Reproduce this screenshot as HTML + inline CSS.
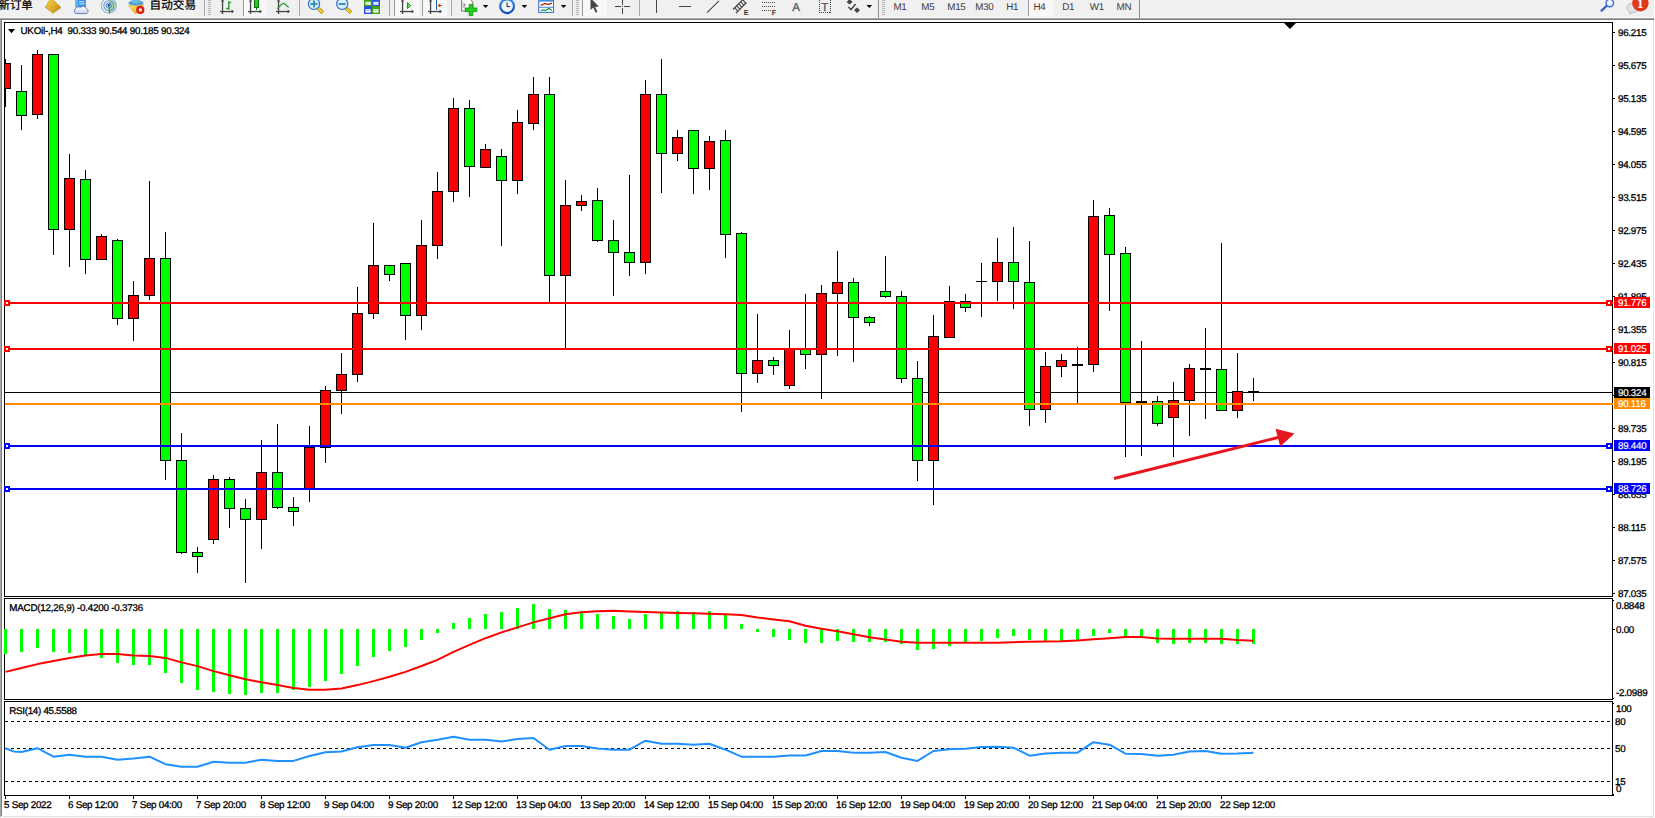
<!DOCTYPE html>
<html lang="zh"><head><meta charset="utf-8"><title>UKOil-,H4</title>
<style>html,body{margin:0;padding:0;background:#fff;overflow:hidden}body{width:1655px;height:818px;position:relative}svg{position:absolute;left:0;top:0;display:block}svg text{font-family:"Liberation Sans", "Noto Sans CJK SC", sans-serif;white-space:pre;text-rendering:geometricPrecision}.c{shape-rendering:crispEdges}</style></head><body>
<svg width="1655" height="818" viewBox="0 0 1655 818">
<g class="c">
<rect x="0" y="0" width="1655" height="818" fill="#ffffff"/>
<rect x="0" y="0" width="1655" height="17" fill="#f0f0f0"/>
<rect x="0" y="17" width="1655" height="1" fill="#f6f6f6"/>
<rect x="0" y="18" width="1654" height="1" fill="#a6a6a6"/>
<rect x="0" y="19" width="1654" height="1" fill="#7e7e7e"/>
<rect x="0" y="20" width="1" height="797" fill="#a8a8a8"/>
<rect x="1" y="20" width="1" height="796" fill="#808080"/>
<rect x="1653" y="20" width="1" height="797" fill="#e3e3e3"/>
<rect x="1654" y="0" width="1" height="818" fill="#ffffff"/>
<rect x="2" y="816" width="1652" height="1" fill="#e3e3e3"/>
<rect x="2" y="817" width="1653" height="1" fill="#f4f4f4"/>
</g>
<g class="c" fill="#000">
<rect x="4" y="22" width="1609" height="1" fill="#000"/>
<rect x="4" y="596" width="1609" height="1" fill="#000"/>
<rect x="4" y="22" width="1" height="575" fill="#000"/>
<rect x="4" y="598" width="1609" height="1" fill="#000"/>
<rect x="4" y="699" width="1609" height="1" fill="#000"/>
<rect x="4" y="598" width="1" height="102" fill="#000"/>
<rect x="4" y="701" width="1609" height="1" fill="#000"/>
<rect x="4" y="795" width="1610" height="1" fill="#000"/>
<rect x="4" y="701" width="1" height="95" fill="#000"/>
<rect x="1612" y="22" width="1" height="575" fill="#000"/>
<rect x="1612" y="598" width="1" height="102" fill="#000"/>
<rect x="1612" y="701" width="1" height="95" fill="#000"/>
<rect x="1613" y="600" width="1" height="1" fill="#000"/>
<rect x="1613" y="698" width="1" height="1" fill="#000"/>
<rect x="1613" y="703" width="1" height="1" fill="#000"/>
<rect x="1613" y="794" width="1" height="1" fill="#000"/>
</g>
<path d="M1284 23 L1296 23 L1290 29 Z" fill="#000"/>
<g class="c">
<rect x="5" y="392" width="1607" height="1" fill="#000"/>
</g>
<g class="c">
<rect x="5" y="59" width="1" height="48" fill="#000"/>
<rect x="5" y="63" width="6" height="26" fill="#000"/>
<rect x="5" y="64" width="5" height="24" fill="#ff0000"/>
<rect x="21" y="65" width="1" height="65" fill="#000"/>
<rect x="16" y="91" width="11" height="25" fill="#000"/>
<rect x="17" y="92" width="9" height="23" fill="#00ff00"/>
<rect x="37" y="50" width="1" height="69" fill="#000"/>
<rect x="32" y="54" width="11" height="61" fill="#000"/>
<rect x="33" y="55" width="9" height="59" fill="#ff0000"/>
<rect x="53" y="54" width="1" height="201" fill="#000"/>
<rect x="48" y="54" width="11" height="176" fill="#000"/>
<rect x="49" y="55" width="9" height="174" fill="#00ff00"/>
<rect x="69" y="154" width="1" height="113" fill="#000"/>
<rect x="64" y="178" width="11" height="52" fill="#000"/>
<rect x="65" y="179" width="9" height="50" fill="#ff0000"/>
<rect x="85" y="170" width="1" height="104" fill="#000"/>
<rect x="80" y="179" width="11" height="81" fill="#000"/>
<rect x="81" y="180" width="9" height="79" fill="#00ff00"/>
<rect x="101" y="234" width="1" height="26" fill="#000"/>
<rect x="96" y="236" width="11" height="24" fill="#000"/>
<rect x="97" y="237" width="9" height="22" fill="#ff0000"/>
<rect x="117" y="239" width="1" height="86" fill="#000"/>
<rect x="112" y="240" width="11" height="79" fill="#000"/>
<rect x="113" y="241" width="9" height="77" fill="#00ff00"/>
<rect x="133" y="281" width="1" height="60" fill="#000"/>
<rect x="128" y="295" width="11" height="24" fill="#000"/>
<rect x="129" y="296" width="9" height="22" fill="#ff0000"/>
<rect x="149" y="181" width="1" height="119" fill="#000"/>
<rect x="144" y="258" width="11" height="38" fill="#000"/>
<rect x="145" y="259" width="9" height="36" fill="#ff0000"/>
<rect x="165" y="232" width="1" height="248" fill="#000"/>
<rect x="160" y="258" width="11" height="203" fill="#000"/>
<rect x="161" y="259" width="9" height="201" fill="#00ff00"/>
<rect x="181" y="433" width="1" height="121" fill="#000"/>
<rect x="176" y="460" width="11" height="93" fill="#000"/>
<rect x="177" y="461" width="9" height="91" fill="#00ff00"/>
<rect x="197" y="547" width="1" height="26" fill="#000"/>
<rect x="192" y="552" width="11" height="5" fill="#000"/>
<rect x="193" y="553" width="9" height="3" fill="#00ff00"/>
<rect x="213" y="475" width="1" height="69" fill="#000"/>
<rect x="208" y="479" width="11" height="61" fill="#000"/>
<rect x="209" y="480" width="9" height="59" fill="#ff0000"/>
<rect x="229" y="477" width="1" height="51" fill="#000"/>
<rect x="224" y="479" width="11" height="30" fill="#000"/>
<rect x="225" y="480" width="9" height="28" fill="#00ff00"/>
<rect x="245" y="499" width="1" height="84" fill="#000"/>
<rect x="240" y="508" width="11" height="12" fill="#000"/>
<rect x="241" y="509" width="9" height="10" fill="#00ff00"/>
<rect x="261" y="440" width="1" height="109" fill="#000"/>
<rect x="256" y="472" width="11" height="48" fill="#000"/>
<rect x="257" y="473" width="9" height="46" fill="#ff0000"/>
<rect x="277" y="424" width="1" height="85" fill="#000"/>
<rect x="272" y="472" width="11" height="36" fill="#000"/>
<rect x="273" y="473" width="9" height="34" fill="#00ff00"/>
<rect x="293" y="497" width="1" height="29" fill="#000"/>
<rect x="288" y="507" width="11" height="5" fill="#000"/>
<rect x="289" y="508" width="9" height="3" fill="#00ff00"/>
<rect x="309" y="426" width="1" height="76" fill="#000"/>
<rect x="304" y="447" width="11" height="42" fill="#000"/>
<rect x="305" y="448" width="9" height="40" fill="#ff0000"/>
<rect x="325" y="386" width="1" height="77" fill="#000"/>
<rect x="320" y="390" width="11" height="58" fill="#000"/>
<rect x="321" y="391" width="9" height="56" fill="#ff0000"/>
<rect x="341" y="353" width="1" height="61" fill="#000"/>
<rect x="336" y="374" width="11" height="17" fill="#000"/>
<rect x="337" y="375" width="9" height="15" fill="#ff0000"/>
<rect x="357" y="287" width="1" height="95" fill="#000"/>
<rect x="352" y="313" width="11" height="62" fill="#000"/>
<rect x="353" y="314" width="9" height="60" fill="#ff0000"/>
<rect x="373" y="223" width="1" height="96" fill="#000"/>
<rect x="368" y="265" width="11" height="49" fill="#000"/>
<rect x="369" y="266" width="9" height="47" fill="#ff0000"/>
<rect x="389" y="265" width="1" height="16" fill="#000"/>
<rect x="384" y="265" width="11" height="10" fill="#000"/>
<rect x="385" y="266" width="9" height="8" fill="#00ff00"/>
<rect x="405" y="263" width="1" height="77" fill="#000"/>
<rect x="400" y="263" width="11" height="53" fill="#000"/>
<rect x="401" y="264" width="9" height="51" fill="#00ff00"/>
<rect x="421" y="220" width="1" height="110" fill="#000"/>
<rect x="416" y="245" width="11" height="71" fill="#000"/>
<rect x="417" y="246" width="9" height="69" fill="#ff0000"/>
<rect x="437" y="172" width="1" height="87" fill="#000"/>
<rect x="432" y="191" width="11" height="55" fill="#000"/>
<rect x="433" y="192" width="9" height="53" fill="#ff0000"/>
<rect x="453" y="98" width="1" height="104" fill="#000"/>
<rect x="448" y="108" width="11" height="84" fill="#000"/>
<rect x="449" y="109" width="9" height="82" fill="#ff0000"/>
<rect x="469" y="100" width="1" height="97" fill="#000"/>
<rect x="464" y="108" width="11" height="59" fill="#000"/>
<rect x="465" y="109" width="9" height="57" fill="#00ff00"/>
<rect x="485" y="144" width="1" height="24" fill="#000"/>
<rect x="480" y="149" width="11" height="19" fill="#000"/>
<rect x="481" y="150" width="9" height="17" fill="#ff0000"/>
<rect x="501" y="149" width="1" height="97" fill="#000"/>
<rect x="496" y="156" width="11" height="25" fill="#000"/>
<rect x="497" y="157" width="9" height="23" fill="#00ff00"/>
<rect x="517" y="110" width="1" height="84" fill="#000"/>
<rect x="512" y="122" width="11" height="59" fill="#000"/>
<rect x="513" y="123" width="9" height="57" fill="#ff0000"/>
<rect x="533" y="77" width="1" height="53" fill="#000"/>
<rect x="528" y="94" width="11" height="30" fill="#000"/>
<rect x="529" y="95" width="9" height="28" fill="#ff0000"/>
<rect x="549" y="77" width="1" height="225" fill="#000"/>
<rect x="544" y="94" width="11" height="182" fill="#000"/>
<rect x="545" y="95" width="9" height="180" fill="#00ff00"/>
<rect x="565" y="180" width="1" height="168" fill="#000"/>
<rect x="560" y="205" width="11" height="71" fill="#000"/>
<rect x="561" y="206" width="9" height="69" fill="#ff0000"/>
<rect x="581" y="195" width="1" height="16" fill="#000"/>
<rect x="576" y="201" width="11" height="5" fill="#000"/>
<rect x="577" y="202" width="9" height="3" fill="#ff0000"/>
<rect x="597" y="188" width="1" height="54" fill="#000"/>
<rect x="592" y="200" width="11" height="41" fill="#000"/>
<rect x="593" y="201" width="9" height="39" fill="#00ff00"/>
<rect x="613" y="220" width="1" height="76" fill="#000"/>
<rect x="608" y="240" width="11" height="13" fill="#000"/>
<rect x="609" y="241" width="9" height="11" fill="#00ff00"/>
<rect x="629" y="175" width="1" height="101" fill="#000"/>
<rect x="624" y="252" width="11" height="11" fill="#000"/>
<rect x="625" y="253" width="9" height="9" fill="#00ff00"/>
<rect x="645" y="80" width="1" height="194" fill="#000"/>
<rect x="640" y="94" width="11" height="169" fill="#000"/>
<rect x="641" y="95" width="9" height="167" fill="#ff0000"/>
<rect x="661" y="59" width="1" height="134" fill="#000"/>
<rect x="656" y="94" width="11" height="60" fill="#000"/>
<rect x="657" y="95" width="9" height="58" fill="#00ff00"/>
<rect x="677" y="130" width="1" height="31" fill="#000"/>
<rect x="672" y="137" width="11" height="17" fill="#000"/>
<rect x="673" y="138" width="9" height="15" fill="#ff0000"/>
<rect x="693" y="130" width="1" height="64" fill="#000"/>
<rect x="688" y="130" width="11" height="39" fill="#000"/>
<rect x="689" y="131" width="9" height="37" fill="#00ff00"/>
<rect x="709" y="136" width="1" height="54" fill="#000"/>
<rect x="704" y="141" width="11" height="28" fill="#000"/>
<rect x="705" y="142" width="9" height="26" fill="#ff0000"/>
<rect x="725" y="130" width="1" height="128" fill="#000"/>
<rect x="720" y="140" width="11" height="95" fill="#000"/>
<rect x="721" y="141" width="9" height="93" fill="#00ff00"/>
<rect x="741" y="232" width="1" height="180" fill="#000"/>
<rect x="736" y="233" width="11" height="141" fill="#000"/>
<rect x="737" y="234" width="9" height="139" fill="#00ff00"/>
<rect x="757" y="314" width="1" height="69" fill="#000"/>
<rect x="752" y="360" width="11" height="14" fill="#000"/>
<rect x="753" y="361" width="9" height="12" fill="#ff0000"/>
<rect x="773" y="357" width="1" height="18" fill="#000"/>
<rect x="768" y="360" width="11" height="6" fill="#000"/>
<rect x="769" y="361" width="9" height="4" fill="#00ff00"/>
<rect x="789" y="330" width="1" height="59" fill="#000"/>
<rect x="784" y="349" width="11" height="37" fill="#000"/>
<rect x="785" y="350" width="9" height="35" fill="#ff0000"/>
<rect x="805" y="294" width="1" height="75" fill="#000"/>
<rect x="800" y="349" width="11" height="6" fill="#000"/>
<rect x="801" y="350" width="9" height="4" fill="#00ff00"/>
<rect x="821" y="285" width="1" height="114" fill="#000"/>
<rect x="816" y="293" width="11" height="62" fill="#000"/>
<rect x="817" y="294" width="9" height="60" fill="#ff0000"/>
<rect x="837" y="251" width="1" height="105" fill="#000"/>
<rect x="832" y="282" width="11" height="12" fill="#000"/>
<rect x="833" y="283" width="9" height="10" fill="#ff0000"/>
<rect x="853" y="278" width="1" height="84" fill="#000"/>
<rect x="848" y="282" width="11" height="36" fill="#000"/>
<rect x="849" y="283" width="9" height="34" fill="#00ff00"/>
<rect x="869" y="316" width="1" height="10" fill="#000"/>
<rect x="864" y="317" width="11" height="6" fill="#000"/>
<rect x="865" y="318" width="9" height="4" fill="#00ff00"/>
<rect x="885" y="256" width="1" height="42" fill="#000"/>
<rect x="880" y="291" width="11" height="6" fill="#000"/>
<rect x="881" y="292" width="9" height="4" fill="#00ff00"/>
<rect x="901" y="291" width="1" height="92" fill="#000"/>
<rect x="896" y="296" width="11" height="83" fill="#000"/>
<rect x="897" y="297" width="9" height="81" fill="#00ff00"/>
<rect x="917" y="361" width="1" height="120" fill="#000"/>
<rect x="912" y="378" width="11" height="83" fill="#000"/>
<rect x="913" y="379" width="9" height="81" fill="#00ff00"/>
<rect x="933" y="315" width="1" height="190" fill="#000"/>
<rect x="928" y="336" width="11" height="125" fill="#000"/>
<rect x="929" y="337" width="9" height="123" fill="#ff0000"/>
<rect x="949" y="286" width="1" height="52" fill="#000"/>
<rect x="944" y="301" width="11" height="37" fill="#000"/>
<rect x="945" y="302" width="9" height="35" fill="#ff0000"/>
<rect x="965" y="294" width="1" height="18" fill="#000"/>
<rect x="960" y="301" width="11" height="7" fill="#000"/>
<rect x="961" y="302" width="9" height="5" fill="#00ff00"/>
<rect x="981" y="263" width="1" height="54" fill="#000"/>
<rect x="976" y="281" width="11" height="1" fill="#000"/>
<rect x="997" y="238" width="1" height="63" fill="#000"/>
<rect x="992" y="262" width="11" height="20" fill="#000"/>
<rect x="993" y="263" width="9" height="18" fill="#ff0000"/>
<rect x="1013" y="227" width="1" height="82" fill="#000"/>
<rect x="1008" y="262" width="11" height="20" fill="#000"/>
<rect x="1009" y="263" width="9" height="18" fill="#00ff00"/>
<rect x="1029" y="241" width="1" height="185" fill="#000"/>
<rect x="1024" y="282" width="11" height="128" fill="#000"/>
<rect x="1025" y="283" width="9" height="126" fill="#00ff00"/>
<rect x="1045" y="352" width="1" height="71" fill="#000"/>
<rect x="1040" y="366" width="11" height="44" fill="#000"/>
<rect x="1041" y="367" width="9" height="42" fill="#ff0000"/>
<rect x="1061" y="354" width="1" height="23" fill="#000"/>
<rect x="1056" y="360" width="11" height="7" fill="#000"/>
<rect x="1057" y="361" width="9" height="5" fill="#ff0000"/>
<rect x="1077" y="347" width="1" height="56" fill="#000"/>
<rect x="1072" y="364" width="11" height="2" fill="#000"/>
<rect x="1093" y="200" width="1" height="172" fill="#000"/>
<rect x="1088" y="216" width="11" height="149" fill="#000"/>
<rect x="1089" y="217" width="9" height="147" fill="#ff0000"/>
<rect x="1109" y="208" width="1" height="103" fill="#000"/>
<rect x="1104" y="215" width="11" height="40" fill="#000"/>
<rect x="1105" y="216" width="9" height="38" fill="#00ff00"/>
<rect x="1125" y="247" width="1" height="210" fill="#000"/>
<rect x="1120" y="253" width="11" height="150" fill="#000"/>
<rect x="1121" y="254" width="9" height="148" fill="#00ff00"/>
<rect x="1141" y="341" width="1" height="115" fill="#000"/>
<rect x="1136" y="401" width="11" height="2" fill="#000"/>
<rect x="1157" y="396" width="1" height="30" fill="#000"/>
<rect x="1152" y="401" width="11" height="23" fill="#000"/>
<rect x="1153" y="402" width="9" height="21" fill="#00ff00"/>
<rect x="1173" y="382" width="1" height="75" fill="#000"/>
<rect x="1168" y="400" width="11" height="18" fill="#000"/>
<rect x="1169" y="401" width="9" height="16" fill="#ff0000"/>
<rect x="1189" y="364" width="1" height="72" fill="#000"/>
<rect x="1184" y="368" width="11" height="33" fill="#000"/>
<rect x="1185" y="369" width="9" height="31" fill="#ff0000"/>
<rect x="1205" y="328" width="1" height="91" fill="#000"/>
<rect x="1200" y="368" width="11" height="2" fill="#000"/>
<rect x="1221" y="243" width="1" height="168" fill="#000"/>
<rect x="1216" y="369" width="11" height="42" fill="#000"/>
<rect x="1217" y="370" width="9" height="40" fill="#00ff00"/>
<rect x="1237" y="353" width="1" height="65" fill="#000"/>
<rect x="1232" y="391" width="11" height="20" fill="#000"/>
<rect x="1233" y="392" width="9" height="18" fill="#ff0000"/>
<rect x="1253" y="378" width="1" height="23" fill="#000"/>
<rect x="1248" y="391" width="11" height="2" fill="#000"/>
</g>
<g class="c">
<rect x="4" y="302" width="1609" height="2" fill="#ff0000"/>
<rect x="4" y="300" width="6" height="6" fill="#ff0000"/>
<rect x="6" y="302" width="2" height="2" fill="#fff"/>
<rect x="1606" y="300" width="6" height="6" fill="#ff0000"/>
<rect x="1608" y="302" width="2" height="2" fill="#fff"/>
<rect x="4" y="348" width="1609" height="2" fill="#ff0000"/>
<rect x="4" y="346" width="6" height="6" fill="#ff0000"/>
<rect x="6" y="348" width="2" height="2" fill="#fff"/>
<rect x="1606" y="346" width="6" height="6" fill="#ff0000"/>
<rect x="1608" y="348" width="2" height="2" fill="#fff"/>
<rect x="4" y="445" width="1609" height="2" fill="#0000ff"/>
<rect x="4" y="443" width="6" height="6" fill="#0000ff"/>
<rect x="6" y="445" width="2" height="2" fill="#fff"/>
<rect x="1606" y="443" width="6" height="6" fill="#0000ff"/>
<rect x="1608" y="445" width="2" height="2" fill="#fff"/>
<rect x="4" y="488" width="1609" height="2" fill="#0000ff"/>
<rect x="4" y="486" width="6" height="6" fill="#0000ff"/>
<rect x="6" y="488" width="2" height="2" fill="#fff"/>
<rect x="1606" y="486" width="6" height="6" fill="#0000ff"/>
<rect x="1608" y="488" width="2" height="2" fill="#fff"/>
<rect x="5" y="403" width="1608" height="2" fill="#ff8c00"/>
</g>
<line x1="1114" y1="478.5" x2="1281" y2="436.8" stroke="#e8161f" stroke-width="3"/>
<path d="M1275.5 428.8 L1294.5 433.6 L1280.2 446.4 Z" fill="#e8161f"/>
<g class="c">
<rect x="4" y="629" width="3" height="25" fill="#00ff00"/>
<rect x="20" y="629" width="3" height="23" fill="#00ff00"/>
<rect x="36" y="629" width="3" height="19" fill="#00ff00"/>
<rect x="52" y="629" width="3" height="23" fill="#00ff00"/>
<rect x="68" y="629" width="3" height="24" fill="#00ff00"/>
<rect x="84" y="629" width="3" height="27" fill="#00ff00"/>
<rect x="100" y="629" width="3" height="29" fill="#00ff00"/>
<rect x="116" y="629" width="3" height="34" fill="#00ff00"/>
<rect x="132" y="629" width="3" height="36" fill="#00ff00"/>
<rect x="148" y="629" width="3" height="36" fill="#00ff00"/>
<rect x="164" y="629" width="3" height="44" fill="#00ff00"/>
<rect x="180" y="629" width="3" height="54" fill="#00ff00"/>
<rect x="196" y="629" width="3" height="61" fill="#00ff00"/>
<rect x="212" y="629" width="3" height="63" fill="#00ff00"/>
<rect x="228" y="629" width="3" height="65" fill="#00ff00"/>
<rect x="244" y="629" width="3" height="66" fill="#00ff00"/>
<rect x="260" y="629" width="3" height="64" fill="#00ff00"/>
<rect x="276" y="629" width="3" height="64" fill="#00ff00"/>
<rect x="292" y="629" width="3" height="61" fill="#00ff00"/>
<rect x="308" y="629" width="3" height="58" fill="#00ff00"/>
<rect x="324" y="629" width="3" height="52" fill="#00ff00"/>
<rect x="340" y="629" width="3" height="45" fill="#00ff00"/>
<rect x="356" y="629" width="3" height="37" fill="#00ff00"/>
<rect x="372" y="629" width="3" height="28" fill="#00ff00"/>
<rect x="388" y="629" width="3" height="22" fill="#00ff00"/>
<rect x="404" y="629" width="3" height="18" fill="#00ff00"/>
<rect x="420" y="629" width="3" height="11" fill="#00ff00"/>
<rect x="436" y="629" width="3" height="4" fill="#00ff00"/>
<rect x="452" y="623" width="3" height="6" fill="#00ff00"/>
<rect x="468" y="618" width="3" height="11" fill="#00ff00"/>
<rect x="484" y="614" width="3" height="15" fill="#00ff00"/>
<rect x="500" y="612" width="3" height="17" fill="#00ff00"/>
<rect x="516" y="608" width="3" height="21" fill="#00ff00"/>
<rect x="532" y="604" width="3" height="25" fill="#00ff00"/>
<rect x="548" y="609" width="3" height="20" fill="#00ff00"/>
<rect x="564" y="610" width="3" height="19" fill="#00ff00"/>
<rect x="580" y="611" width="3" height="18" fill="#00ff00"/>
<rect x="596" y="614" width="3" height="15" fill="#00ff00"/>
<rect x="612" y="616" width="3" height="13" fill="#00ff00"/>
<rect x="628" y="619" width="3" height="10" fill="#00ff00"/>
<rect x="644" y="614" width="3" height="15" fill="#00ff00"/>
<rect x="660" y="612" width="3" height="17" fill="#00ff00"/>
<rect x="676" y="611" width="3" height="18" fill="#00ff00"/>
<rect x="692" y="612" width="3" height="17" fill="#00ff00"/>
<rect x="708" y="611" width="3" height="18" fill="#00ff00"/>
<rect x="724" y="614" width="3" height="15" fill="#00ff00"/>
<rect x="740" y="624" width="3" height="5" fill="#00ff00"/>
<rect x="756" y="629" width="3" height="3" fill="#00ff00"/>
<rect x="772" y="629" width="3" height="8" fill="#00ff00"/>
<rect x="788" y="629" width="3" height="11" fill="#00ff00"/>
<rect x="804" y="629" width="3" height="14" fill="#00ff00"/>
<rect x="820" y="629" width="3" height="14" fill="#00ff00"/>
<rect x="836" y="629" width="3" height="12" fill="#00ff00"/>
<rect x="852" y="629" width="3" height="13" fill="#00ff00"/>
<rect x="868" y="629" width="3" height="13" fill="#00ff00"/>
<rect x="884" y="629" width="3" height="13" fill="#00ff00"/>
<rect x="900" y="629" width="3" height="15" fill="#00ff00"/>
<rect x="916" y="629" width="3" height="21" fill="#00ff00"/>
<rect x="932" y="629" width="3" height="20" fill="#00ff00"/>
<rect x="948" y="629" width="3" height="17" fill="#00ff00"/>
<rect x="964" y="629" width="3" height="13" fill="#00ff00"/>
<rect x="980" y="629" width="3" height="12" fill="#00ff00"/>
<rect x="996" y="629" width="3" height="9" fill="#00ff00"/>
<rect x="1012" y="629" width="3" height="7" fill="#00ff00"/>
<rect x="1028" y="629" width="3" height="11" fill="#00ff00"/>
<rect x="1044" y="629" width="3" height="12" fill="#00ff00"/>
<rect x="1060" y="629" width="3" height="12" fill="#00ff00"/>
<rect x="1076" y="629" width="3" height="11" fill="#00ff00"/>
<rect x="1092" y="629" width="3" height="7" fill="#00ff00"/>
<rect x="1108" y="629" width="3" height="4" fill="#00ff00"/>
<rect x="1124" y="629" width="3" height="8" fill="#00ff00"/>
<rect x="1140" y="629" width="3" height="9" fill="#00ff00"/>
<rect x="1156" y="629" width="3" height="14" fill="#00ff00"/>
<rect x="1172" y="629" width="3" height="15" fill="#00ff00"/>
<rect x="1188" y="629" width="3" height="14" fill="#00ff00"/>
<rect x="1204" y="629" width="3" height="14" fill="#00ff00"/>
<rect x="1220" y="629" width="3" height="15" fill="#00ff00"/>
<rect x="1236" y="629" width="3" height="15" fill="#00ff00"/>
<rect x="1252" y="629" width="3" height="15" fill="#00ff00"/>
</g>
<polyline points="5.5,671.9 21.5,668.0 37.5,664.1 53.5,661.0 69.5,658.0 85.5,655.4 101.5,654.1 117.5,654.1 133.5,655.4 149.5,656.1 165.5,657.9 181.5,662.4 197.5,666.1 213.5,671.1 229.5,675.3 245.5,679.3 261.5,682.3 277.5,685.1 293.5,688.1 309.5,689.8 325.5,689.8 341.5,688.6 357.5,685.1 373.5,681.1 389.5,676.8 405.5,671.9 421.5,666.0 437.5,659.9 453.5,651.9 469.5,644.9 485.5,638.2 501.5,632.4 517.5,627.4 533.5,622.4 549.5,618.2 565.5,614.2 581.5,612.2 597.5,611.2 613.5,610.7 629.5,611.5 645.5,612.0 661.5,612.5 677.5,613.0 693.5,613.2 709.5,613.7 725.5,614.2 741.5,615.0 757.5,617.5 773.5,619.4 789.5,621.2 805.5,625.7 821.5,628.7 837.5,631.2 853.5,634.2 869.5,637.2 885.5,639.4 901.5,641.7 917.5,642.7 933.5,642.7 949.5,642.7 965.5,642.7 981.5,642.7 997.5,642.7 1013.5,642.2 1029.5,641.7 1045.5,641.4 1061.5,641.2 1077.5,640.4 1093.5,639.2 1109.5,638.2 1125.5,636.9 1141.5,636.9 1157.5,638.4 1173.5,638.7 1189.5,638.7 1205.5,638.7 1221.5,638.7 1237.5,639.9 1253.5,640.7" fill="none" stroke="#ff0000" stroke-width="2" stroke-linejoin="round"/>
<g class="c">
<line x1="5" y1="721.5" x2="1612" y2="721.5" stroke="#000" stroke-width="1" stroke-dasharray="3 3"/>
<line x1="5" y1="748.5" x2="1612" y2="748.5" stroke="#000" stroke-width="1" stroke-dasharray="3 3"/>
<line x1="5" y1="781.5" x2="1612" y2="781.5" stroke="#000" stroke-width="1" stroke-dasharray="3 3"/>
</g>
<polyline points="5.5,748.2 13.5,751.4 21.5,752.0 37.5,748.2 53.5,756.7 69.5,754.7 85.5,756.7 101.5,756.7 117.5,759.7 133.5,758.5 149.5,756.7 165.5,764.2 181.5,766.7 197.5,766.7 213.5,761.7 229.5,762.7 245.5,762.7 261.5,759.7 277.5,760.9 293.5,760.9 309.5,756.0 325.5,752.2 341.5,751.5 357.5,747.2 373.5,745.0 389.5,745.0 405.5,747.7 421.5,742.2 437.5,739.7 453.5,736.7 469.5,739.7 485.5,739.7 501.5,741.5 517.5,739.0 533.5,738.0 549.5,749.7 565.5,746.0 581.5,746.0 597.5,748.5 613.5,749.7 629.5,749.7 645.5,740.7 661.5,743.7 677.5,743.7 693.5,744.7 709.5,743.7 725.5,749.7 741.5,756.7 757.5,756.7 773.5,756.7 789.5,755.5 805.5,755.5 821.5,751.0 837.5,751.0 853.5,752.7 869.5,752.7 885.5,752.0 901.5,757.7 917.5,760.9 933.5,751.0 949.5,749.2 965.5,748.7 981.5,747.0 997.5,746.7 1013.5,747.7 1029.5,755.7 1045.5,753.5 1061.5,752.7 1077.5,752.7 1093.5,742.2 1109.5,744.7 1125.5,753.7 1141.5,754.0 1157.5,755.7 1173.5,754.7 1189.5,751.5 1205.5,751.0 1221.5,753.7 1237.5,753.5 1253.5,752.8" fill="none" stroke="#1e90ff" stroke-width="2" stroke-linejoin="round"/>
<g class="c">
<rect x="1613" y="32" width="2" height="1" fill="#000"/>
<rect x="1613" y="65" width="2" height="1" fill="#000"/>
<rect x="1613" y="98" width="2" height="1" fill="#000"/>
<rect x="1613" y="131" width="2" height="1" fill="#000"/>
<rect x="1613" y="164" width="2" height="1" fill="#000"/>
<rect x="1613" y="197" width="2" height="1" fill="#000"/>
<rect x="1613" y="230" width="2" height="1" fill="#000"/>
<rect x="1613" y="263" width="2" height="1" fill="#000"/>
<rect x="1613" y="296" width="2" height="1" fill="#000"/>
<rect x="1613" y="329" width="2" height="1" fill="#000"/>
<rect x="1613" y="362" width="2" height="1" fill="#000"/>
<rect x="1613" y="395" width="2" height="1" fill="#000"/>
<rect x="1613" y="428" width="2" height="1" fill="#000"/>
<rect x="1613" y="461" width="2" height="1" fill="#000"/>
<rect x="1613" y="494" width="2" height="1" fill="#000"/>
<rect x="1613" y="527" width="2" height="1" fill="#000"/>
<rect x="1613" y="560" width="2" height="1" fill="#000"/>
<rect x="1613" y="593" width="2" height="1" fill="#000"/>
<rect x="1613" y="629" width="2" height="1" fill="#000"/>
</g>
<g>
<text x="1618" y="36" font-size="9.8" letter-spacing="-0.27" fill="#000" stroke="#000" stroke-width="0.3" text-anchor="start">96.215</text>
<text x="1618" y="69" font-size="9.8" letter-spacing="-0.27" fill="#000" stroke="#000" stroke-width="0.3" text-anchor="start">95.675</text>
<text x="1618" y="102" font-size="9.8" letter-spacing="-0.27" fill="#000" stroke="#000" stroke-width="0.3" text-anchor="start">95.135</text>
<text x="1618" y="135" font-size="9.8" letter-spacing="-0.27" fill="#000" stroke="#000" stroke-width="0.3" text-anchor="start">94.595</text>
<text x="1618" y="168" font-size="9.8" letter-spacing="-0.27" fill="#000" stroke="#000" stroke-width="0.3" text-anchor="start">94.055</text>
<text x="1618" y="201" font-size="9.8" letter-spacing="-0.27" fill="#000" stroke="#000" stroke-width="0.3" text-anchor="start">93.515</text>
<text x="1618" y="234" font-size="9.8" letter-spacing="-0.27" fill="#000" stroke="#000" stroke-width="0.3" text-anchor="start">92.975</text>
<text x="1618" y="267" font-size="9.8" letter-spacing="-0.27" fill="#000" stroke="#000" stroke-width="0.3" text-anchor="start">92.435</text>
<text x="1618" y="300" font-size="9.8" letter-spacing="-0.27" fill="#000" stroke="#000" stroke-width="0.3" text-anchor="start">91.895</text>
<text x="1618" y="333" font-size="9.8" letter-spacing="-0.27" fill="#000" stroke="#000" stroke-width="0.3" text-anchor="start">91.355</text>
<text x="1618" y="366" font-size="9.8" letter-spacing="-0.27" fill="#000" stroke="#000" stroke-width="0.3" text-anchor="start">90.815</text>
<text x="1618" y="432" font-size="9.8" letter-spacing="-0.27" fill="#000" stroke="#000" stroke-width="0.3" text-anchor="start">89.735</text>
<text x="1618" y="465" font-size="9.8" letter-spacing="-0.27" fill="#000" stroke="#000" stroke-width="0.3" text-anchor="start">89.195</text>
<text x="1618" y="498" font-size="9.8" letter-spacing="-0.27" fill="#000" stroke="#000" stroke-width="0.3" text-anchor="start">88.655</text>
<text x="1618" y="531" font-size="9.8" letter-spacing="-0.27" fill="#000" stroke="#000" stroke-width="0.3" text-anchor="start">88.115</text>
<text x="1618" y="564" font-size="9.8" letter-spacing="-0.27" fill="#000" stroke="#000" stroke-width="0.3" text-anchor="start">87.575</text>
<text x="1618" y="597" font-size="9.8" letter-spacing="-0.27" fill="#000" stroke="#000" stroke-width="0.3" text-anchor="start">87.035</text>
<text x="1616" y="609" font-size="9.8" letter-spacing="-0.27" fill="#000" stroke="#000" stroke-width="0.3" text-anchor="start">0.8848</text>
<text x="1616" y="633" font-size="9.8" letter-spacing="-0.27" fill="#000" stroke="#000" stroke-width="0.3" text-anchor="start">0.00</text>
<text x="1616" y="696" font-size="9.8" letter-spacing="-0.27" fill="#000" stroke="#000" stroke-width="0.3" text-anchor="start">-2.0989</text>
<text x="1616" y="712" font-size="9.8" letter-spacing="-0.27" fill="#000" stroke="#000" stroke-width="0.3" text-anchor="start">100</text>
<text x="1615" y="725" font-size="9.8" letter-spacing="-0.27" fill="#000" stroke="#000" stroke-width="0.3" text-anchor="start">80</text>
<text x="1615" y="752" font-size="9.8" letter-spacing="-0.27" fill="#000" stroke="#000" stroke-width="0.3" text-anchor="start">50</text>
<text x="1615" y="785" font-size="9.8" letter-spacing="-0.27" fill="#000" stroke="#000" stroke-width="0.3" text-anchor="start">15</text>
<text x="1616" y="792" font-size="9.8" letter-spacing="-0.27" fill="#000" stroke="#000" stroke-width="0.3" text-anchor="start">0</text>
</g>
<g class="c">
<rect x="1614" y="297" width="36" height="11" fill="#ff0000"/>
<rect x="1614" y="343" width="36" height="11" fill="#ff0000"/>
<rect x="1614" y="387" width="36" height="11" fill="#000000"/>
<rect x="1614" y="398" width="36" height="11" fill="#ff8c00"/>
<rect x="1614" y="440" width="36" height="11" fill="#0000ff"/>
<rect x="1614" y="483" width="36" height="11" fill="#0000ff"/>
</g>
<text x="1618" y="306" font-size="9.8" letter-spacing="-0.27" fill="#fff" stroke="#fff" stroke-width="0.15" text-anchor="start">91.776</text>
<text x="1618" y="352" font-size="9.8" letter-spacing="-0.27" fill="#fff" stroke="#fff" stroke-width="0.15" text-anchor="start">91.025</text>
<text x="1618" y="396" font-size="9.8" letter-spacing="-0.27" fill="#fff" stroke="#fff" stroke-width="0.15" text-anchor="start">90.324</text>
<text x="1618" y="407" font-size="9.8" letter-spacing="-0.27" fill="#fff" stroke="#fff" stroke-width="0.15" text-anchor="start">90.116</text>
<text x="1618" y="449" font-size="9.8" letter-spacing="-0.27" fill="#fff" stroke="#fff" stroke-width="0.15" text-anchor="start">89.440</text>
<text x="1618" y="492" font-size="9.8" letter-spacing="-0.27" fill="#fff" stroke="#fff" stroke-width="0.15" text-anchor="start">88.726</text>
<path d="M8 29 L15 29 L11.5 33.2 Z" fill="#000"/>
<text x="20.5" y="34" font-size="9.8" textLength="169.3" lengthAdjust="spacing" fill="#000" stroke="#000" stroke-width="0.3" text-anchor="start">UKOil-,H4  90.333 90.544 90.185 90.324</text>
<text x="9.3" y="611" font-size="9.8" textLength="133.8" lengthAdjust="spacing" fill="#000" stroke="#000" stroke-width="0.3" text-anchor="start">MACD(12,26,9) -0.4200 -0.3736</text>
<text x="9.3" y="714" font-size="9.8" textLength="67.7" lengthAdjust="spacing" fill="#000" stroke="#000" stroke-width="0.3" text-anchor="start">RSI(14) 45.5588</text>
<g class="c">
<rect x="5" y="796" width="1" height="3" fill="#000"/>
<rect x="69" y="796" width="1" height="3" fill="#000"/>
<rect x="133" y="796" width="1" height="3" fill="#000"/>
<rect x="197" y="796" width="1" height="3" fill="#000"/>
<rect x="261" y="796" width="1" height="3" fill="#000"/>
<rect x="325" y="796" width="1" height="3" fill="#000"/>
<rect x="389" y="796" width="1" height="3" fill="#000"/>
<rect x="453" y="796" width="1" height="3" fill="#000"/>
<rect x="517" y="796" width="1" height="3" fill="#000"/>
<rect x="581" y="796" width="1" height="3" fill="#000"/>
<rect x="645" y="796" width="1" height="3" fill="#000"/>
<rect x="709" y="796" width="1" height="3" fill="#000"/>
<rect x="773" y="796" width="1" height="3" fill="#000"/>
<rect x="837" y="796" width="1" height="3" fill="#000"/>
<rect x="901" y="796" width="1" height="3" fill="#000"/>
<rect x="965" y="796" width="1" height="3" fill="#000"/>
<rect x="1029" y="796" width="1" height="3" fill="#000"/>
<rect x="1093" y="796" width="1" height="3" fill="#000"/>
<rect x="1157" y="796" width="1" height="3" fill="#000"/>
<rect x="1221" y="796" width="1" height="3" fill="#000"/>
</g>
<text x="4" y="808" font-size="9.8" letter-spacing="-0.27" fill="#000" stroke="#000" stroke-width="0.3" text-anchor="start">5 Sep 2022</text>
<text x="68" y="808" font-size="9.8" letter-spacing="-0.27" fill="#000" stroke="#000" stroke-width="0.3" text-anchor="start">6 Sep 12:00</text>
<text x="132" y="808" font-size="9.8" letter-spacing="-0.27" fill="#000" stroke="#000" stroke-width="0.3" text-anchor="start">7 Sep 04:00</text>
<text x="196" y="808" font-size="9.8" letter-spacing="-0.27" fill="#000" stroke="#000" stroke-width="0.3" text-anchor="start">7 Sep 20:00</text>
<text x="260" y="808" font-size="9.8" letter-spacing="-0.27" fill="#000" stroke="#000" stroke-width="0.3" text-anchor="start">8 Sep 12:00</text>
<text x="324" y="808" font-size="9.8" letter-spacing="-0.27" fill="#000" stroke="#000" stroke-width="0.3" text-anchor="start">9 Sep 04:00</text>
<text x="388" y="808" font-size="9.8" letter-spacing="-0.27" fill="#000" stroke="#000" stroke-width="0.3" text-anchor="start">9 Sep 20:00</text>
<text x="452" y="808" font-size="9.8" letter-spacing="-0.27" fill="#000" stroke="#000" stroke-width="0.3" text-anchor="start">12 Sep 12:00</text>
<text x="516" y="808" font-size="9.8" letter-spacing="-0.27" fill="#000" stroke="#000" stroke-width="0.3" text-anchor="start">13 Sep 04:00</text>
<text x="580" y="808" font-size="9.8" letter-spacing="-0.27" fill="#000" stroke="#000" stroke-width="0.3" text-anchor="start">13 Sep 20:00</text>
<text x="644" y="808" font-size="9.8" letter-spacing="-0.27" fill="#000" stroke="#000" stroke-width="0.3" text-anchor="start">14 Sep 12:00</text>
<text x="708" y="808" font-size="9.8" letter-spacing="-0.27" fill="#000" stroke="#000" stroke-width="0.3" text-anchor="start">15 Sep 04:00</text>
<text x="772" y="808" font-size="9.8" letter-spacing="-0.27" fill="#000" stroke="#000" stroke-width="0.3" text-anchor="start">15 Sep 20:00</text>
<text x="836" y="808" font-size="9.8" letter-spacing="-0.27" fill="#000" stroke="#000" stroke-width="0.3" text-anchor="start">16 Sep 12:00</text>
<text x="900" y="808" font-size="9.8" letter-spacing="-0.27" fill="#000" stroke="#000" stroke-width="0.3" text-anchor="start">19 Sep 04:00</text>
<text x="964" y="808" font-size="9.8" letter-spacing="-0.27" fill="#000" stroke="#000" stroke-width="0.3" text-anchor="start">19 Sep 20:00</text>
<text x="1028" y="808" font-size="9.8" letter-spacing="-0.27" fill="#000" stroke="#000" stroke-width="0.3" text-anchor="start">20 Sep 12:00</text>
<text x="1092" y="808" font-size="9.8" letter-spacing="-0.27" fill="#000" stroke="#000" stroke-width="0.3" text-anchor="start">21 Sep 04:00</text>
<text x="1156" y="808" font-size="9.8" letter-spacing="-0.27" fill="#000" stroke="#000" stroke-width="0.3" text-anchor="start">21 Sep 20:00</text>
<text x="1220" y="808" font-size="9.8" letter-spacing="-0.27" fill="#000" stroke="#000" stroke-width="0.3" text-anchor="start">22 Sep 12:00</text>
<g id="toolbar">
<text x="-1.5" y="9.2" font-size="11.4" fill="#000" stroke="#000" stroke-width="0.25">新订单</text>
<text x="149.6" y="9.2" font-size="11.6" fill="#000" stroke="#000" stroke-width="0.25">自动交易</text>
<defs><linearGradient id="gb" x1="0" y1="0" x2="1" y2="1"><stop offset="0" stop-color="#f7d64a"/><stop offset="1" stop-color="#c98f14"/></linearGradient><linearGradient id="gc" x1="0" y1="0" x2="0" y2="1"><stop offset="0" stop-color="#ffffff"/><stop offset="1" stop-color="#c4d2ea"/></linearGradient><linearGradient id="gh" x1="0" y1="0" x2="1" y2="1"><stop offset="0" stop-color="#fbe070"/><stop offset="1" stop-color="#e0a818"/></linearGradient></defs>
<path d="M50 -1 L45 7.6 L52.8 13.8 L60.8 8.2 L60.4 6.4 L54.5 1 Z" fill="#a66e10"/>
<path d="M50.2 -1 L45.6 7.2 L52.6 12.2 L59.8 6.6 L54.3 1 Z" fill="url(#gb)"/>
<path d="M46.2 8.4 L52.8 13 L60.2 7.8" fill="none" stroke="#f3dc9a" stroke-width="0.8"/>
<rect x="75.3" y="-2" width="10.5" height="9.5" fill="#2f8fe6"/>
<rect x="75.3" y="-2" width="2.6" height="9.5" fill="#6fb4f2"/>
<rect x="79" y="1.2" width="5.4" height="1" fill="#dff0ff"/><rect x="79" y="3.4" width="5.4" height="1" fill="#dff0ff"/>
<path d="M76.2 13.6 A2.9 2.9 0 0 1 76 8.2 A3 3 0 0 1 80.4 7.4 A3.6 3.6 0 0 1 86.4 8.6 A2.7 2.7 0 0 1 86.4 13.6 Z" fill="url(#gc)" stroke="#5878b4" stroke-width="0.9"/>
<path d="M109 5.6 L109 13.4 A7.8 7.8 0 0 0 109 -2.2 Z" fill="#8cc48c" opacity="0.75"/>
<circle cx="108.8" cy="5.6" r="7.4" fill="none" stroke="#9db4dc" stroke-width="1.1"/>
<circle cx="108.8" cy="5.6" r="4.9" fill="none" stroke="#6f97dc" stroke-width="1.1"/>
<circle cx="108.8" cy="5.6" r="2.6" fill="none" stroke="#4a7cd4" stroke-width="1"/>
<circle cx="108.8" cy="5.4" r="1.3" fill="#1f55c4"/>
<path d="M109.2 6 L109.4 13.6" fill="none" stroke="#22a822" stroke-width="1.3"/>
<path d="M128.6 5 L143.6 4.6 L136.4 13.4 L134.6 13.2 Z" fill="url(#gh)" stroke="#d09a14" stroke-width="0.6"/>
<ellipse cx="136" cy="3" rx="7.6" ry="2.6" fill="#4f9fd8"/>
<ellipse cx="136" cy="0.5" rx="4.4" ry="3" fill="#6fb8e6"/>
<circle cx="140.3" cy="9.9" r="4.1" fill="#d8200c"/>
<rect x="138.9" y="8.5" width="2.8" height="2.8" fill="#fff"/>
<rect x="204" y="0" width="1" height="16" fill="#a8a8a8"/>
<rect x="208" y="0" width="3" height="1" fill="#b4b4b4"/>
<rect x="208" y="2" width="3" height="1" fill="#b4b4b4"/>
<rect x="208" y="4" width="3" height="1" fill="#b4b4b4"/>
<rect x="208" y="6" width="3" height="1" fill="#b4b4b4"/>
<rect x="208" y="8" width="3" height="1" fill="#b4b4b4"/>
<rect x="208" y="10" width="3" height="1" fill="#b4b4b4"/>
<rect x="208" y="12" width="3" height="1" fill="#b4b4b4"/>
<rect x="208" y="14" width="3" height="1" fill="#b4b4b4"/>
<g fill="#454545"><rect x="221.9" y="0" width="1.3" height="14"/><rect x="220" y="10.9" width="13" height="1.3"/><path d="M231.6 9.6 L234 11.55 L231.6 13.5 Z"/><path d="M220.8 1.6 L222.55 -0.6 L224.3 1.6 Z"/></g>
<g fill="#109010"><rect x="228.2" y="1.2" width="1.3" height="8.6"/><rect x="229.4" y="1.9" width="1.8" height="1.2"/><rect x="226.2" y="7.9" width="2.2" height="1.2"/></g>
<rect x="244" y="0" width="23" height="16" fill="#f8f8f8"/>
<rect x="243" y="0" width="1" height="16" fill="#9a9a9a"/>
<g fill="#454545"><rect x="249.9" y="0" width="1.3" height="14"/><rect x="248" y="10.9" width="13" height="1.3"/><path d="M259.6 9.6 L262 11.55 L259.6 13.5 Z"/><path d="M248.8 1.6 L250.55 -0.6 L252.3 1.6 Z"/></g>
<g class="c"><rect x="256" y="0" width="1" height="10" fill="#0b6b0b"/><rect x="254" y="-1" width="5" height="9" fill="#0b6b0b"/><rect x="255" y="0" width="3" height="7" fill="#1fd01f"/></g>
<g fill="#454545"><rect x="277.9" y="0" width="1.3" height="14"/><rect x="276" y="10.9" width="13" height="1.3"/><path d="M287.6 9.6 L290 11.55 L287.6 13.5 Z"/><path d="M276.8 1.6 L278.55 -0.6 L280.3 1.6 Z"/></g>
<path d="M277.2 8.8 C280 6.5 281.5 3.3 283.4 3.3 C285 3.3 286.5 6 288.8 7.3" fill="none" stroke="#1c9a1c" stroke-width="1.3"/>
<rect x="299" y="0" width="1" height="16" fill="#a8a8a8"/>
<path d="M318 8.2 L322.8 12.8" stroke="#a87408" stroke-width="3.6" stroke-linecap="butt"/>
<path d="M318.2 8.4 L322.6 12.6" stroke="#ecd428" stroke-width="2.2" stroke-linecap="butt"/>
<circle cx="314" cy="3.9" r="5.6" fill="#d2ecf9" stroke="#2f72c4" stroke-width="1.2"/>
<rect x="310.5" y="3" width="7" height="1.9" fill="#3b8bbd"/>
<rect x="313.05" y="0.4" width="1.9" height="7" fill="#3b8bbd"/>
<path d="M346.2 8.2 L351.0 12.8" stroke="#a87408" stroke-width="3.6" stroke-linecap="butt"/>
<path d="M346.4 8.4 L350.8 12.6" stroke="#ecd428" stroke-width="2.2" stroke-linecap="butt"/>
<circle cx="342.2" cy="3.9" r="5.6" fill="#d2ecf9" stroke="#2f72c4" stroke-width="1.2"/>
<rect x="338.7" y="3" width="7" height="1.9" fill="#3b8bbd"/>
<g class="c"><rect x="364" y="-1" width="8" height="7" fill="#3ea412"/><rect x="372" y="-1" width="8" height="7" fill="#2352d4"/><rect x="364" y="6" width="8" height="8" fill="#2352d4"/><rect x="372" y="6" width="8" height="8" fill="#3ea412"/></g><g fill="#fff"><rect x="365.5" y="1.8" width="5.2" height="3"/><rect x="373.3" y="1.8" width="5.2" height="3"/><rect x="365.5" y="9.2" width="5.2" height="3.4"/><rect x="373.3" y="9.2" width="5.2" height="3.4"/></g><g opacity="0.55"><rect x="366.5" y="2.6" width="3.2" height="0.8" fill="#3ea412"/><rect x="374.3" y="2.6" width="3.2" height="0.8" fill="#2352d4"/><rect x="366.5" y="10.2" width="3.2" height="0.8" fill="#2352d4"/><rect x="374.3" y="10.2" width="3.2" height="0.8" fill="#3ea412"/></g>
<rect x="389" y="0" width="1" height="16" fill="#a8a8a8"/>
<rect x="395" y="0" width="24" height="16" fill="#f8f8f8"/>
<rect x="394" y="0" width="1" height="16" fill="#9a9a9a"/>
<g fill="#454545"><rect x="401.9" y="0" width="1.3" height="14"/><rect x="400" y="10.9" width="13" height="1.3"/><path d="M411.6 9.6 L414 11.55 L411.6 13.5 Z"/><path d="M400.8 1.6 L402.55 -0.6 L404.3 1.6 Z"/></g>
<path d="M407.4 2.6 L410.8 5.5 L407.4 8.4 Z" fill="#7be27b" stroke="#109010" stroke-width="1"/>
<rect x="423" y="0" width="24" height="16" fill="#f8f8f8"/>
<rect x="422" y="0" width="1" height="16" fill="#9a9a9a"/>
<g fill="#454545"><rect x="429.9" y="0" width="1.3" height="14"/><rect x="428" y="10.9" width="13" height="1.3"/><path d="M439.6 9.6 L442 11.55 L439.6 13.5 Z"/><path d="M428.8 1.6 L430.55 -0.6 L432.3 1.6 Z"/></g>
<rect class="c" x="436" y="0" width="1" height="10" fill="#1f68a8"/>
<path d="M437.4 5.5 L440.4 3.2 L440 5 L441.9 5 L441.9 6 L440 6 L440.4 7.8 Z" fill="#d04a08"/>
<rect x="451" y="0" width="1" height="16" fill="#a8a8a8"/>
<path d="M461.7 -1 L470 -1 L472.8 2 L472.8 11 L461.7 11 Z" fill="#fbfbfb" stroke="#747474" stroke-width="1"/>
<path d="M464 3 L464 8 M464 5 L466 5" stroke="#6a6a5a" stroke-width="0.8" fill="none"/>
<path d="M469.2 4.4 H472.8 V8 H476.8 V11.6 H472.8 V15.6 H469.2 V11.6 H465.2 V8 H469.2 Z" fill="#1fd01f" stroke="#0d8f0d" stroke-width="0.8"/>
<path d="M482.8 5 L488.40000000000003 5 L485.6 8.1 Z" fill="#000"/>
<defs><linearGradient id="gk" x1="0" y1="0" x2="0" y2="1"><stop offset="0" stop-color="#3a8cec"/><stop offset="1" stop-color="#0c4cb0"/></linearGradient></defs>
<circle cx="507.1" cy="6.2" r="6.9" fill="#f6f9ff" stroke="url(#gk)" stroke-width="2.2"/>
<path d="M507.1 2.4 L507.1 6.4 L510 6.8" fill="none" stroke="#333" stroke-width="1.1"/>
<circle cx="507.1" cy="6.2" r="4.6" fill="none" stroke="#b8bcc4" stroke-width="0.8" stroke-dasharray="0.6 1.8"/>
<path d="M521.6 5 L527.2 5 L524.4 8.1 Z" fill="#000"/>
<rect x="538.7" y="-2" width="14.8" height="14.4" fill="#fff" stroke="#3a7bd0" stroke-width="1.1"/>
<rect x="538.7" y="-2" width="14.8" height="3.6" fill="#4a8ee0"/>
<rect x="538.7" y="6.8" width="14.8" height="0.9" fill="#3a7bd0"/>
<path d="M540.5 5.2 L543 4.6 L545 3.4 L547.5 4.3 L549.5 4 L552 3.2" fill="none" stroke="#a32408" stroke-width="1.3"/>
<path d="M540.8 10.6 L543.5 9.8 L545.5 10.6 L549 8.3 L551.8 10.4" fill="none" stroke="#129a32" stroke-width="1.2"/>
<path d="M560.8 5 L566.4 5 L563.5999999999999 8.1 Z" fill="#000"/>
<rect x="572" y="0" width="1" height="16" fill="#a8a8a8"/>
<rect x="576" y="0" width="3" height="1" fill="#b4b4b4"/>
<rect x="576" y="2" width="3" height="1" fill="#b4b4b4"/>
<rect x="576" y="4" width="3" height="1" fill="#b4b4b4"/>
<rect x="576" y="6" width="3" height="1" fill="#b4b4b4"/>
<rect x="576" y="8" width="3" height="1" fill="#b4b4b4"/>
<rect x="576" y="10" width="3" height="1" fill="#b4b4b4"/>
<rect x="576" y="12" width="3" height="1" fill="#b4b4b4"/>
<rect x="576" y="14" width="3" height="1" fill="#b4b4b4"/>
<rect x="583" y="0" width="24" height="16" fill="#f8f8f8"/>
<rect x="582" y="0" width="1" height="16" fill="#9a9a9a"/>
<path d="M590.5 -2 L590.5 10 L593.3 7.6 L595.6 12.8 L597.4 12 L595.2 6.9 L598.8 6.6 Z" fill="#454545"/>
<g class="c" fill="#454545"><rect x="622" y="0" width="1" height="14"/><rect x="615" y="6" width="15" height="1"/></g>
<rect class="c" x="621" y="5" width="3" height="3" fill="#f0f0f0"/>
<g class="c" fill="#454545"><rect x="622" y="6" width="1" height="1"/></g>
<rect x="639" y="0" width="1" height="16" fill="#a8a8a8"/>
<g class="c" fill="#454545"><rect x="656" y="0" width="1" height="13"/><rect x="679" y="6" width="12" height="1"/></g>
<path d="M707 12.7 L719 0.8" stroke="#454545" stroke-width="1.1"/>
<path d="M733 9.5 L743 -0.5 M736 13 L746.5 2.5 M734.5 7 L738 12 M736.5 5 L740 10 M738.5 3 L742 8 M740.5 1 L744 6 M742.5 -1 L746 4" stroke="#454545" stroke-width="1.15" fill="none"/>
<text x="743.8" y="15" font-size="7.2" font-weight="bold" fill="#303030">E</text>
<line class="c" x1="762" y1="2.5" x2="775" y2="2.5" stroke="#454545" stroke-width="1" stroke-dasharray="1 1"/>
<line class="c" x1="762" y1="6.5" x2="775" y2="6.5" stroke="#454545" stroke-width="1" stroke-dasharray="1 1"/>
<line class="c" x1="762" y1="10.5" x2="771" y2="10.5" stroke="#454545" stroke-width="1" stroke-dasharray="1 1"/>
<text x="771.8" y="15" font-size="7.2" font-weight="bold" fill="#303030">F</text>
<text x="792.2" y="10.8" font-size="11.6" fill="#5a5a5a" stroke="#5a5a5a" stroke-width="0.3">A</text>
<rect class="c" x="819.5" y="-1.5" width="11" height="14" fill="none" stroke="#454545" stroke-width="1" stroke-dasharray="1 1"/>
<text x="821.3" y="10.8" font-size="11.6" fill="#5a5a5a" stroke="#5a5a5a" stroke-width="0.3">T</text>
<path d="M846.6 2 L849.6 -1 L852.6 2 L849.6 4.4 Z M854 10 L857 7.4 L860 10 L857 13 Z" fill="#454545"/>
<path d="M848.4 7 L851 9.6 L855.6 4" fill="none" stroke="#454545" stroke-width="1.5"/>
<path d="M866.5 5 L872.1 5 L869.3 8.1 Z" fill="#000"/>
<rect x="878" y="0" width="1" height="18" fill="#8c8c8c"/>
<rect x="882" y="0" width="3" height="1" fill="#b4b4b4"/>
<rect x="882" y="2" width="3" height="1" fill="#b4b4b4"/>
<rect x="882" y="4" width="3" height="1" fill="#b4b4b4"/>
<rect x="882" y="6" width="3" height="1" fill="#b4b4b4"/>
<rect x="882" y="8" width="3" height="1" fill="#b4b4b4"/>
<rect x="882" y="10" width="3" height="1" fill="#b4b4b4"/>
<rect x="882" y="12" width="3" height="1" fill="#b4b4b4"/>
<rect x="882" y="14" width="3" height="1" fill="#b4b4b4"/>
<rect x="1029" y="0" width="24" height="16" fill="#f8f8f8"/>
<rect x="1028" y="0" width="1" height="16" fill="#9a9a9a"/>
<text x="893.4" y="10" font-size="9.8" letter-spacing="-0.27" fill="#3c3c3c">M1</text>
<text x="921.3" y="10" font-size="9.8" letter-spacing="-0.27" fill="#3c3c3c">M5</text>
<text x="947.3" y="10" font-size="9.8" letter-spacing="-0.27" fill="#3c3c3c">M15</text>
<text x="975.3" y="10" font-size="9.8" letter-spacing="-0.27" fill="#3c3c3c">M30</text>
<text x="1006.2" y="10" font-size="9.8" letter-spacing="-0.27" fill="#3c3c3c">H1</text>
<text x="1033.5" y="10" font-size="9.8" letter-spacing="-0.27" fill="#3c3c3c">H4</text>
<text x="1062.3" y="10" font-size="9.8" letter-spacing="-0.27" fill="#3c3c3c">D1</text>
<text x="1089.8" y="10" font-size="9.8" letter-spacing="-0.27" fill="#3c3c3c">W1</text>
<text x="1116.5" y="10" font-size="9.8" letter-spacing="-0.27" fill="#3c3c3c">MN</text>
<rect x="1139" y="0" width="1" height="18" fill="#8c8c8c"/>
<path d="M1606.5 6 L1601.6 10.6" stroke="#2f62cc" stroke-width="2.4" stroke-linecap="round"/>
<circle cx="1609.8" cy="3" r="3.7" fill="#f4f7fc" stroke="#3a6edc" stroke-width="1.5"/>
<path d="M1629.5 14.2 L1630.2 11.8 A6.2 4.8 0 1 1 1633 12.4 Z" fill="#dfe2ec" stroke="#b4b6bf" stroke-width="0.9"/>
<circle cx="1640.4" cy="3.3" r="8.2" fill="#e2391d"/>
<text x="1640.2" y="8.2" font-size="13" font-weight="bold" fill="#fff" text-anchor="middle" style="font-family:'Liberation Serif',serif">1</text>
</g>
</svg></body></html>
